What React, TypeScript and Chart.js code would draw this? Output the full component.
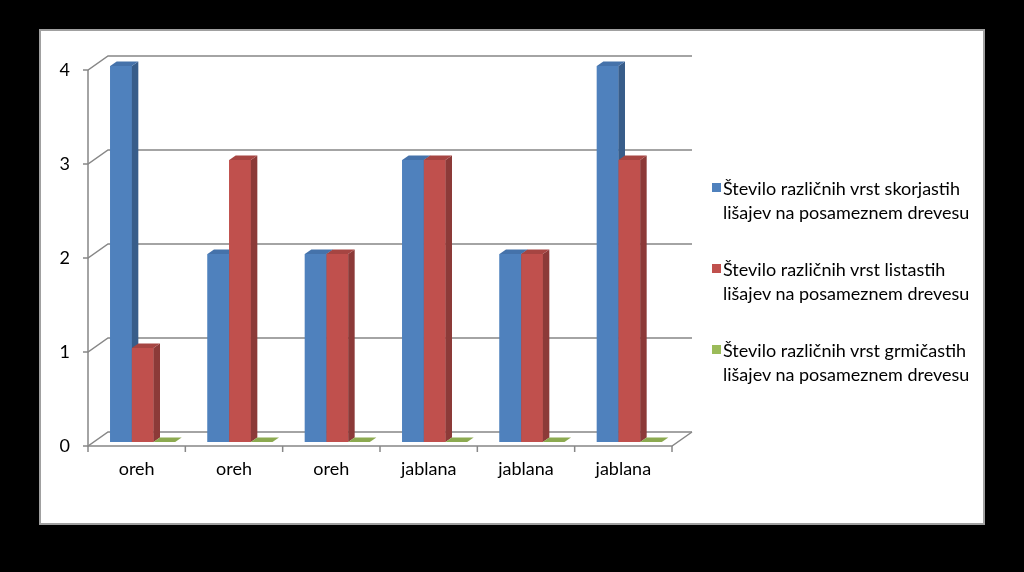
import React, { useEffect, useRef } from 'react';
import { Chart, registerables } from 'chart.js';

Chart.register(...registerables);

// ---- data ----
const categories = ['oreh', 'oreh', 'oreh', 'jablana', 'jablana', 'jablana'];
const skorjasti = [4, 2, 2, 3, 2, 4];
const listasti = [1, 3, 2, 3, 2, 3];
const grmicasti = [0, 0, 0, 0, 0, 0];
const seriesNames = [
  'Število različnih vrst skorjastih lišajev na posameznem drevesu',
  'Število različnih vrst listastih lišajev na posameznem drevesu',
  'Število različnih vrst grmičastih lišajev na posameznem drevesu',
];
const yTicks = [0, 1, 2, 3, 4];

// ---- styles ----
const palette = [
  { front: '#4F81BD', side: '#385D8A', top: '#4572AA' },
  { front: '#C0504D', side: '#8C3A38', top: '#A64542' },
  { front: '#9BBB59', side: '#71893F', top: '#8CAA50' },
];
const FRONT = { dx: -6, dy: 4 }; // front axis plane relative to bar plane
const BACK = { dx: 20, dy: -14 }; // back wall relative to front plane
const BAR = { dx: 6.5, dy: -4.5 }; // bar depth
const GRID = '#878787';
const FONT = 'Lato';

const threeD = {
  id: 'threeD',
  beforeDatasetsDraw(chart: any) {
    const { ctx, chartArea, scales } = chart;
    const x = scales.x;
    const y = scales.y;
    const fl = chartArea.left + FRONT.dx;
    const fr = chartArea.right + FRONT.dx;
    const bl = fl + BACK.dx;
    const br = fr + BACK.dx;
    const y0 = y.getPixelForValue(0) + FRONT.dy;
    const yTop = y.getPixelForValue(y.max) + FRONT.dy;
    ctx.save();
    ctx.strokeStyle = GRID;
    ctx.lineWidth = 1.5;
    ctx.lineCap = 'butt';
    yTicks.forEach((v) => {
      const py = y.getPixelForValue(v) + FRONT.dy;
      ctx.beginPath();
      ctx.moveTo(fl - 5, py);
      ctx.lineTo(fl, py);
      ctx.lineTo(bl, py + BACK.dy);
      ctx.lineTo(br, py + BACK.dy);
      ctx.stroke();
    });
    ctx.beginPath();
    ctx.moveTo(fl, yTop);
    ctx.lineTo(fl, y0);
    ctx.lineTo(fr, y0);
    ctx.lineTo(br, y0 + BACK.dy);
    ctx.stroke();
    const step = x.getPixelForValue(1) - x.getPixelForValue(0);
    for (let i = 0; i <= categories.length; i++) {
      const px = x.getPixelForValue(0) - step / 2 + i * step + FRONT.dx;
      ctx.beginPath();
      ctx.moveTo(px, y0);
      ctx.lineTo(px, y0 + 6);
      ctx.stroke();
    }
    ctx.restore();
  },
  afterDatasetsDraw(chart: any) {
    const { ctx } = chart;
    const metas = chart.data.datasets.map((_: any, i: number) => chart.getDatasetMeta(i));
    ctx.save();
    for (let j = 0; j < categories.length; j++) {
      metas.forEach((meta: any, k: number) => {
        const el = meta.data[j];
        if (!el) return;
        const { x: cx, y: ty, base, width } = el.getProps(['x', 'y', 'base', 'width'], true);
        const l = cx - width / 2;
        const r = cx + width / 2;
        const c = palette[k];
        if (base - ty > 0.5) {
          ctx.fillStyle = c.front;
          ctx.fillRect(l, ty, r - l, base - ty);
          ctx.fillStyle = c.side;
          ctx.beginPath();
          ctx.moveTo(r, ty);
          ctx.lineTo(r + BAR.dx, ty + BAR.dy);
          ctx.lineTo(r + BAR.dx, base + BAR.dy);
          ctx.lineTo(r, base);
          ctx.closePath();
          ctx.fill();
        }
        ctx.fillStyle = c.top;
        ctx.beginPath();
        ctx.moveTo(l, ty);
        ctx.lineTo(r, ty);
        ctx.lineTo(r + BAR.dx, ty + BAR.dy);
        ctx.lineTo(l + BAR.dx, ty + BAR.dy);
        ctx.closePath();
        ctx.fill();
      });
    }
    ctx.restore();
  },
};

export default function App() {
  const ref = useRef<HTMLCanvasElement | null>(null);
  useEffect(() => {
    if (!ref.current) return;
    const series = [skorjasti, listasti, grmicasti];
    const chart = new Chart(ref.current, {
      type: 'bar',
      data: {
        labels: categories,
        datasets: series.map((d, i) => ({
          label: seriesNames[i],
          data: d,
          backgroundColor: palette[i].front,
          borderWidth: 0,
          categoryPercentage: 0.668,
          barPercentage: 1,
        })),
      },
      options: {
        responsive: false,
        animation: false,
        devicePixelRatio: 1,
        layout: { padding: { left: 40, top: 66, right: 346, bottom: 70 } },
        plugins: { legend: { display: false }, tooltip: { enabled: false } },
        scales: {
          x: {
            grid: { display: false, drawTicks: false },
            border: { display: false },
            ticks: {
              font: { family: FONT, size: 18 },
              color: '#000',
              labelOffset: FRONT.dx,
              padding: 16,
              maxRotation: 0,
              autoSkip: false,
            },
            afterFit: (s: any) => {
              s.height = 60;
            },
          },
          y: {
            min: 0,
            max: 4,
            grid: { display: false, drawTicks: false },
            border: { display: false },
            ticks: {
              stepSize: 1,
              font: { family: FONT, size: 18 },
              color: '#000',
              padding: 24,
              labelOffset: FRONT.dy,
            },
            afterFit: (s: any) => {
              s.width = 54;
            },
          },
        },
      } as any,
      plugins: [threeD],
    });
    return () => chart.destroy();
  }, []);

  const legendTops = [176, 257, 338];
  return (
    <div style={{ position: 'fixed', left: 0, top: 0, width: 1024, height: 572, background: '#000', overflow: 'hidden' }}>
      <div
        style={{
          position: 'absolute',
          left: 39,
          top: 29,
          width: 946,
          height: 496,
          background: '#fff',
          border: '2px solid #a0a0a0',
          boxSizing: 'border-box',
        }}
      />
      <canvas ref={ref} width={1024} height={572} style={{ position: 'absolute', left: 0, top: 0, width: 1024, height: 572 }} />
      {seriesNames.map((name, i) => (
        <div
          key={i}
          style={{
            position: 'absolute',
            left: 712,
            top: legendTops[i],
            display: 'flex',
            alignItems: 'flex-start',
            fontFamily: FONT,
            fontSize: 18,
            lineHeight: '24px',
            color: '#000',
          }}
        >
          <div style={{ width: 9, height: 9, marginTop: 7, marginRight: 2, background: palette[i].front }} />
          <div style={{ whiteSpace: 'pre' }}>{name.replace(' lišajev', '\nlišajev')}</div>
        </div>
      ))}
    </div>
  );
}
